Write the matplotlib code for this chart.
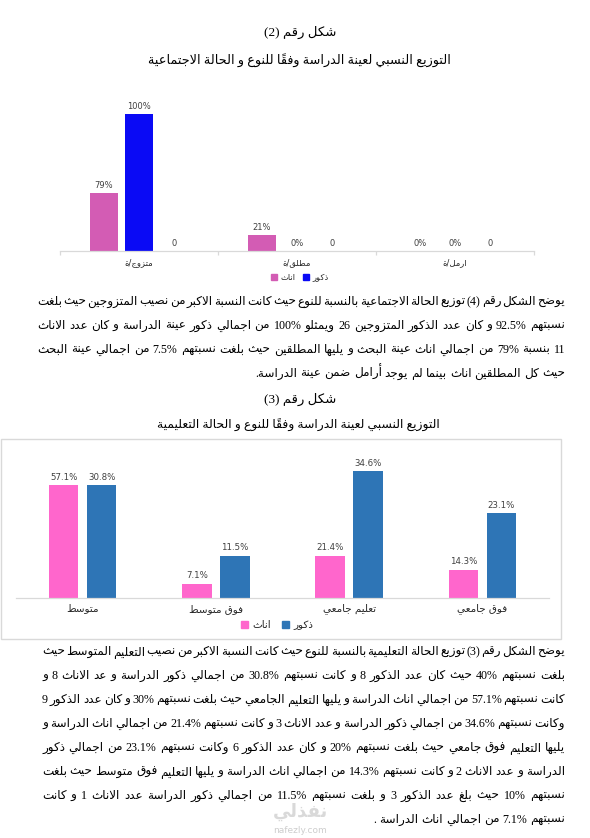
import matplotlib
matplotlib.use('Agg')
import matplotlib.pyplot as plt
from matplotlib.patches import Rectangle, Patch
from matplotlib.transforms import Affine2D

W, H = 590, 838

# ---------------- data ----------------
marital_categories = ['متزوج/ة', 'مطلق/ة', 'ارمل/ة']
marital_female_counts = [11, 3, 0]
marital_male_counts = [26, 0, 0]
marital_other_counts = [0, 0, 0]
marital_female_labels = ['79%', '21%', '0%']
marital_male_labels = ['100%', '0%', '0%']
marital_other_labels = ['0', '0', '0']

edu_categories = ['متوسط', 'فوق متوسط', 'تعليم جامعي', 'فوق جامعي']
edu_female_counts = [8, 1, 3, 2]
edu_male_counts = [8, 3, 9, 6]
edu_female_labels = ['57.1%', '7.1%', '21.4%', '14.3%']
edu_male_labels = ['30.8%', '11.5%', '34.6%', '23.1%']

series_names = ['اناث', 'ذكور']

title1 = 'شكل رقم (2)'
subtitle1 = 'التوزيع النسبي لعينة الدراسة وفقاً للنوع و الحالة الاجتماعية'
title2 = 'شكل رقم (3)'
subtitle2 = 'التوزيع النسبي لعينة الدراسة وفقاً للنوع و الحالة التعليمية'

para1 = [
    'يوضح الشكل رقم (4) توزيع الحالة الاجتماعية بالنسبة للنوع حيث كانت النسبة الاكبر من نصيب المتزوجين حيث بلغت',
    'نسبتهم 92.5% و كان عدد الذكور المتزوجين 26 ويمثلو 100% من اجمالي ذكور عينة الدراسة و كان عدد الاناث',
    '11 بنسبة 79% من اجمالي اناث عينة البحث و يليها المطلقين حيث بلغت نسبتهم 7.5% من اجمالي عينة البحث',
    'حيث كل المطلقين اناث بينما لم يوجد أرامل ضمن عينة الدراسة.',
]
para2 = [
    'يوضح الشكل رقم (3) توزيع الحالة التعليمية بالنسبة للنوع حيث كانت النسبة الاكبر من نصيب التعليم المتوسط حيث',
    'بلغت نسبتهم 40% حيث كان عدد الذكور 8 و كانت نسبتهم 30.8% من اجمالي ذكور الدراسة و عد الاناث 8 و',
    'كانت نسبتهم 57.1% من اجمالي اناث الدراسة و يليها التعليم الجامعي حيث بلغت نسبتهم 30% و كان عدد الذكور 9',
    'وكانت نسبتهم 34.6% من اجمالي ذكور الدراسة و عدد الاناث 3 و كانت نسبتهم 21.4% من اجمالي اناث الدراسة و',
    'يليها التعليم فوق جامعي حيث بلغت نسبتهم 20% و كان عدد الذكور 6 وكانت نسبتهم 23.1% من اجمالي ذكور',
    'الدراسة و عدد الاناث 2 و كانت نسبتهم 14.3% من اجمالي اناث الدراسة و يليها التعليم فوق متوسط حيث بلغت',
    'نسبتهم 10% حيث بلغ عدد الذكور 3 و بلغت نسبتهم 11.5% من اجمالي ذكور الدراسة عدد الاناث 1 و كانت',
    'نسبتهم 7.1% من اجمالي اناث الدراسة .',
]

# ---------------- minimal Arabic shaping ----------------
_TABLE = [('ء', 0xFE80, 'N'), ('آ', 0xFE81, 'R'), ('أ', 0xFE83, 'R'), ('ؤ', 0xFE85, 'R'),
          ('إ', 0xFE87, 'R'), ('ئ', 0xFE89, 'D'), ('ا', 0xFE8D, 'R'), ('ب', 0xFE8F, 'D'),
          ('ة', 0xFE93, 'R'), ('ت', 0xFE95, 'D'), ('ث', 0xFE99, 'D'), ('ج', 0xFE9D, 'D'),
          ('ح', 0xFEA1, 'D'), ('خ', 0xFEA5, 'D'), ('د', 0xFEA9, 'R'), ('ذ', 0xFEAB, 'R'),
          ('ر', 0xFEAD, 'R'), ('ز', 0xFEAF, 'R'), ('س', 0xFEB1, 'D'), ('ش', 0xFEB5, 'D'),
          ('ص', 0xFEB9, 'D'), ('ض', 0xFEBD, 'D'), ('ط', 0xFEC1, 'D'), ('ظ', 0xFEC5, 'D'),
          ('ع', 0xFEC9, 'D'), ('غ', 0xFECD, 'D'), ('ف', 0xFED1, 'D'), ('ق', 0xFED5, 'D'),
          ('ك', 0xFED9, 'D'), ('ل', 0xFEDD, 'D'), ('م', 0xFEE1, 'D'), ('ن', 0xFEE5, 'D'),
          ('ه', 0xFEE9, 'D'), ('و', 0xFEED, 'R'), ('ى', 0xFEEF, 'R'), ('ي', 0xFEF1, 'D')]
AR = {c: (code, kind) for c, code, kind in _TABLE}
LAMALEF = {'آ': 0xFEF5, 'أ': 0xFEF7, 'إ': 0xFEF9, 'ا': 0xFEFB}


def _is_mark(c):
    o = ord(c)
    return 0x064B <= o <= 0x065F or o == 0x0670


def _kind(c):
    if c in AR:
        return AR[c][1]
    if c == '\u0640':
        return 'C'
    return None


def shape_word(word):
    clusters = []
    for c in word:
        if _is_mark(c) and clusters:
            clusters[-1].append(c)
        else:
            clusters.append([c])
    bases = [cl[0] for cl in clusters]
    kinds = [_kind(b) for b in bases]
    n = len(clusters)
    out = []
    i = 0
    while i < n:
        b, k = bases[i], kinds[i]
        jp = i > 0 and kinds[i - 1] in ('D', 'C') and k in ('D', 'R', 'C')
        if b == 'ل' and i + 1 < n and bases[i + 1] in LAMALEF:
            code = LAMALEF[bases[i + 1]] + (1 if jp else 0)
            out.append([chr(code)] + clusters[i][1:] + clusters[i + 1][1:])
            i += 2
            continue
        if k is None or k == 'C':
            out.append(clusters[i])
            i += 1
            continue
        jn = i + 1 < n and k in ('D', 'C') and kinds[i + 1] in ('D', 'R', 'C')
        base = AR[b][0]
        if k == 'N':
            code = base
        elif jp and jn:
            code = base + 3
        elif jp:
            code = base + 1
        elif jn:
            code = base + 2
        else:
            code = base
        out.append([chr(code)] + clusters[i][1:])
        i += 1
    return ''.join(''.join(cl) for cl in reversed(out))


def has_ar(w):
    return any('\u0600' <= c <= '\u06FF' for c in w)


def vis_word(w):
    return shape_word(w) if has_ar(w) else w


def vis_line(s):
    return ' '.join(vis_word(w) for w in reversed(s.split()))


# ---------------- figure ----------------
SERIF = ['Liberation Serif', 'DejaVu Sans']
SANS = ['DejaVu Sans']

fig = plt.figure(figsize=(W / 100, H / 100), dpi=100)
fig.patch.set_facecolor('white')
pix = Affine2D().scale(1.0 / W, -1.0 / H).translate(0, 1) + fig.transFigure
R = fig.canvas.get_renderer()


def measure(s, fs, family):
    t = fig.text(0, 0, s, fontsize=fs, family=family, transform=pix)
    w = t.get_window_extent(R).width
    t.remove()
    return w


def fitted_text(s, xc, yc, target_w, family=SERIF, color='black'):
    v = vis_line(s)
    w10 = measure(v, 10, family)
    fs = 10 * target_w / w10
    fig.text(xc, yc, v, fontsize=fs, family=family, ha='center', va='center',
             transform=pix, color=color)


def para_size(lines, avail, min_gap=1.6):
    best = 10.0
    for s in lines:
        ws = [measure(vis_word(w), 10, SERIF) for w in s.split()]
        nat = sum(ws) + (len(ws) - 1) * min_gap
        best = min(best, 10 * avail / nat)
    return best


def para_line(s, yc, right, left, fs):
    words = s.split()
    ts = [fig.text(0, 0, vis_word(w), fontsize=fs, family=SERIF, ha='left',
                   va='baseline', transform=pix, color='black') for w in words]
    ws = [t.get_window_extent(R).width for t in ts]
    if left is None or len(ws) < 2:
        gap = fs * 100 / 72 * 0.25
    else:
        gap = (right - left - sum(ws)) / (len(ws) - 1)
    x = right
    for t, w in zip(ts, ws):
        x -= w
        t.set_position((x, yc + 4))
        x -= gap


def style_axes(ax, ncat, ticks):
    for sp in ('top', 'left', 'right'):
        ax.spines[sp].set_visible(False)
    ax.spines['bottom'].set_color('#D9D9D9')
    ax.spines['bottom'].set_linewidth(0.9)
    ax.set_yticks([])
    ax.set_xlim(-0.5, ncat - 0.5)
    ax.tick_params(axis='x', which='major', length=0)
    if ticks:
        ax.set_xticks([i - 0.5 for i in range(ncat + 1)], minor=True)
        ax.tick_params(axis='x', which='minor', length=3, color='#D9D9D9', width=0.9)
    ax.patch.set_alpha(0)


# ---------------- chart 1 ----------------
fitted_text(title1, 300, 32, 72)
fitted_text(subtitle1, 299.5, 60, 302)

c1_left, c1_right, c1_base, c1_top = 60, 534, 251.3, 100
ax1 = fig.add_axes([c1_left / W, 1 - c1_base / H, (c1_right - c1_left) / W,
                    (c1_base - c1_top) / H])
x1 = list(range(len(marital_categories)))
bw1, off1 = 0.174, 0.2215
pinks1, blues1, others1 = '#D35CB4', '#0A0AF5', '#A5A5A5'
b_f = ax1.bar([x - off1 for x in x1], marital_female_counts, bw1, color=pinks1)
b_m = ax1.bar(x1, marital_male_counts, bw1, color=blues1)
b_o = ax1.bar([x + off1 for x in x1], marital_other_counts, bw1, color=others1)
ax1.set_ylim(0, (c1_base - c1_top) / 5.28)
style_axes(ax1, len(marital_categories), True)
ax1.set_xticks(x1, [vis_line(c) for c in marital_categories], fontsize=6,
               family=SANS, color='#262626')
ax1.tick_params(axis='x', which='major', pad=5)
for cont, labs in ((b_f, marital_female_labels), (b_m, marital_male_labels),
                   (b_o, marital_other_labels)):
    ax1.bar_label(cont, labels=labs, padding=2.5, fontsize=6, family=SANS, color='#404040')
leg1 = ax1.legend([Patch(color=pinks1), Patch(color=blues1)],
                  [vis_line(s) for s in series_names], ncol=2, loc='center',
                  bbox_to_anchor=(300, 277), bbox_transform=pix, frameon=False,
                  prop={'family': SANS, 'size': 6}, handlelength=0.75, handleheight=0.75,
                  handletextpad=0.4, columnspacing=0.9, borderpad=0)
for t in leg1.get_texts():
    t.set_color('#262626')

# ---------------- paragraph 1 ----------------
RIGHT, LEFT = 565, 37
fs_p = min(para_size(para1[:-1], RIGHT - LEFT), para_size(para2[:-1], RIGHT - LEFT - 5))
for i, (s, yc) in enumerate(zip(para1, [301, 325, 349, 372.5])):
    para_line(s, yc, RIGHT, LEFT if i < len(para1) - 1 else None, fs_p)

# ---------------- chart 2 ----------------
fitted_text(title2, 300, 399, 72)
fitted_text(subtitle2, 298.5, 425, 285)

fig.patches.append(Rectangle((1, 438.5), 560, 200.5, transform=pix, fill=False,
                             edgecolor='#D9D9D9', linewidth=1.0))

c2_left, c2_right, c2_base, c2_top = 16, 549, 598, 452
ax2 = fig.add_axes([c2_left / W, 1 - c2_base / H, (c2_right - c2_left) / W,
                    (c2_base - c2_top) / H])
x2 = list(range(len(edu_categories)))
bw2, off2 = 0.222, 0.1426
pinks2, blues2 = '#FF66CC', '#2E75B6'
e_f = ax2.bar([x - off2 for x in x2], edu_female_counts, bw2, color=pinks2)
e_m = ax2.bar([x + off2 for x in x2], edu_male_counts, bw2, color=blues2)
ax2.set_ylim(0, (c2_base - c2_top) / 14.1)
style_axes(ax2, len(edu_categories), False)
ax2.set_xticks(x2, [vis_line(c) for c in edu_categories], fontsize=7.5,
               family=SANS, color='#262626')
ax2.tick_params(axis='x', which='major', pad=4)
for cont, labs in ((e_f, edu_female_labels), (e_m, edu_male_labels)):
    ax2.bar_label(cont, labels=labs, padding=2.5, fontsize=6.2, family=SANS, color='#404040')
leg2 = ax2.legend([Patch(color=pinks2), Patch(color=blues2)],
                  [vis_line(s) for s in series_names], ncol=2, loc='center',
                  bbox_to_anchor=(277, 625), bbox_transform=pix, frameon=False,
                  prop={'family': SANS, 'size': 7.5}, handlelength=0.75, handleheight=0.75,
                  handletextpad=0.4, columnspacing=1.0, borderpad=0)
for t in leg2.get_texts():
    t.set_color('#262626')

# ---------------- paragraph 2 ----------------
ys2 = [651, 675, 699, 723, 747, 771, 795, 819]
for i, (s, yc) in enumerate(zip(para2, ys2)):
    para_line(s, yc, RIGHT, LEFT + 5 if i < len(para2) - 1 else None, fs_p)

# watermark
fig.text(300, 812, vis_line('نفذلي'), fontsize=13, family=SANS, weight='bold',
         color='#D0D0D0', ha='center', va='center', transform=pix, alpha=0.8)
fig.text(300, 830, 'nafezly.com', fontsize=6.5, family=SANS, color='#C8C8C8',
         ha='center', va='center', transform=pix, alpha=0.9)

fig.savefig('out.png', dpi=100, facecolor='white')
